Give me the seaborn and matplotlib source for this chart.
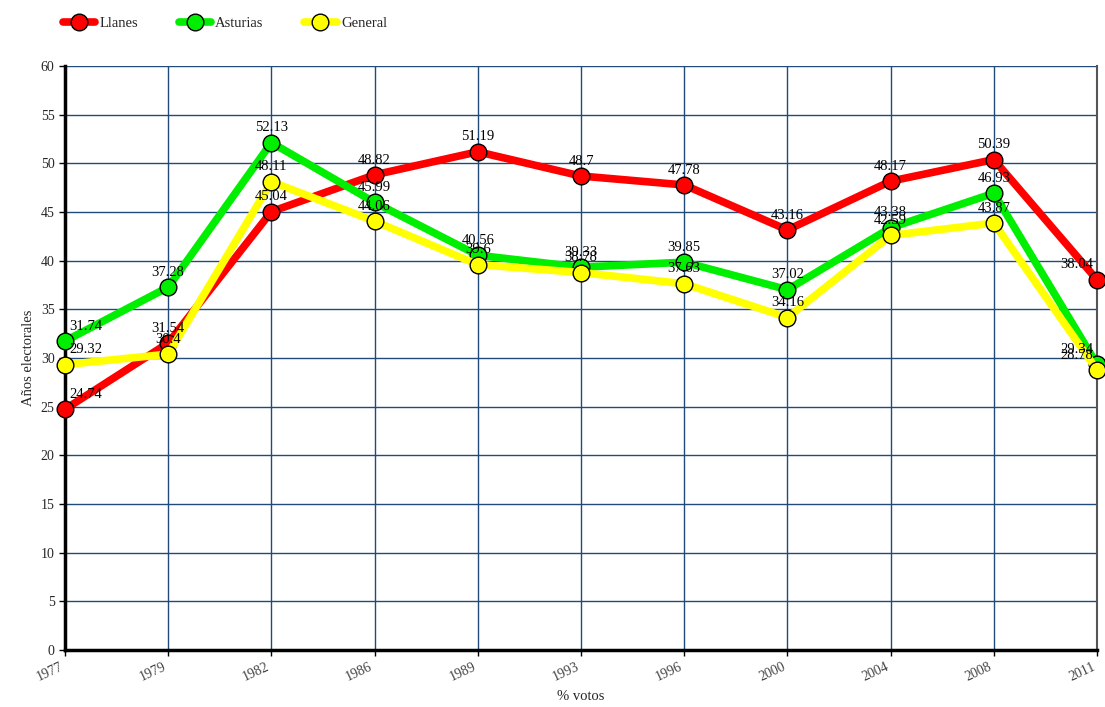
import pandas as pd
import matplotlib.pyplot as plt
import seaborn as sns

sns.set_theme(style='white')
plt.rcParams['font.family'] = ['Liberation Serif', 'DejaVu Serif']

# Data
years = ['1977', '1979', '1982', '1986', '1989', '1993', '1996', '2000', '2004', '2008', '2011']
llanes = [24.74, 31.54, 45.04, 48.82, 51.19, 48.7, 47.78, 43.16, 48.17, 50.39, 38.04]
asturias = [31.74, 37.28, 52.13, 45.99, 40.56, 39.33, 39.85, 37.02, 43.38, 46.93, 29.34]
general = [29.32, 30.4, 48.11, 44.06, 39.6, 38.78, 37.63, 34.16, 42.59, 43.87, 28.78]

series = {'Llanes': llanes, 'Asturias': asturias, 'General': general}
colors = {'Llanes': '#ff0000', 'Asturias': '#00ee00', 'General': '#ffff00'}

rows = []
for name, vals in series.items():
    for i, (yr, v) in enumerate(zip(years, vals)):
        rows.append({'pos': i, 'year': yr, 'value': v, 'serie': name})
df = pd.DataFrame(rows)

fig = plt.figure(figsize=(11.05, 7.07), dpi=100)
ax = fig.add_axes([0.0588, 0.0806, 0.934, 0.826])

ax = sns.lineplot(data=df, x='pos', y='value', hue='serie', palette=colors,
                  marker='o', markersize=12, markeredgecolor='black', markeredgewidth=1,
                  linewidth=5.5, ax=ax, clip_on=False, zorder=3)

ax.set_xlim(0, len(years) - 1)
ax.set_ylim(0, 60)
ax.set_yticks(range(0, 61, 5))
ax.set_xticks(range(len(years)))
ax.set_xticklabels(years, rotation=25, ha='right', color='#444444')
ax.tick_params(axis='both', labelsize=10, length=4, width=1, color='black', direction='out', bottom=True, left=True)
ax.grid(True, color='#1f4a7a', linewidth=1)
ax.set_axisbelow(True)

for s in ['left', 'bottom']:
    ax.spines[s].set_color('black')
    ax.spines[s].set_linewidth(2.5)
ax.spines['top'].set_visible(False)
ax.spines['right'].set_color('#555555')
ax.spines['right'].set_linewidth(1.5)

# Value labels above each point
n = len(years)
for name, vals in series.items():
    for i, v in enumerate(vals):
        ha = 'center'
        dx = 0
        if i == 0:
            ha = 'left'
            dx = 3
        elif i == n - 1:
            ha = 'right'
            dx = -3
        ax.annotate(f'{v:g}', (i, v), xytext=(dx, 6), textcoords='offset points',
                    ha=ha, va='bottom', fontsize=10.5, color='black', zorder=5)

ax.set_xlabel('% votos', fontsize=10.5)
ax.set_ylabel('Años electorales', fontsize=10.5)

ax.get_legend().remove()
handles, labels = ax.get_legend_handles_labels()
fig.legend(handles, labels, loc='upper left', bbox_to_anchor=(0.045, 0.995), ncol=3,
           frameon=False, fontsize=10.5, handlelength=2.2, columnspacing=2.8, handletextpad=0.3)

fig.savefig('out.png', dpi=100)
